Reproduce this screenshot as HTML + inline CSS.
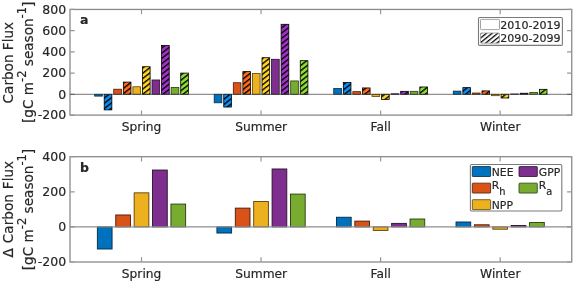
<!DOCTYPE html>
<html lang="en"><head><meta charset="utf-8"><title>Seasonal carbon flux</title>
<style>html,body{margin:0;padding:0;background:#fff}svg{display:block;will-change:transform}text{font-family:"DejaVu Sans", "Liberation Sans", sans-serif;fill:#262626;stroke:#262626;stroke-width:0.18px}</style></head><body>
<svg width="575" height="283" viewBox="0 0 575 283">
<defs>
<pattern id="h0" width="4.14" height="4.14" patternUnits="userSpaceOnUse" patternTransform="rotate(-38.0) translate(0 0.00)"><rect width="4.14" height="4.14" fill="#0a8cf0"/><rect width="4.14" height="1.35" fill="#000"/></pattern>
<pattern id="h1" width="4.14" height="4.14" patternUnits="userSpaceOnUse" patternTransform="rotate(-38.0) translate(0 0.00)"><rect width="4.14" height="4.14" fill="#ff6a14"/><rect width="4.14" height="1.35" fill="#000"/></pattern>
<pattern id="h2" width="4.14" height="4.14" patternUnits="userSpaceOnUse" patternTransform="rotate(-38.0) translate(0 0.00)"><rect width="4.14" height="4.14" fill="#ffd420"/><rect width="4.14" height="1.35" fill="#000"/></pattern>
<pattern id="h3" width="4.14" height="4.14" patternUnits="userSpaceOnUse" patternTransform="rotate(-38.0) translate(0 0.00)"><rect width="4.14" height="4.14" fill="#a030c8"/><rect width="4.14" height="1.35" fill="#000"/></pattern>
<pattern id="h4" width="4.14" height="4.14" patternUnits="userSpaceOnUse" patternTransform="rotate(-38.0) translate(0 0.00)"><rect width="4.14" height="4.14" fill="#8edc30"/><rect width="4.14" height="1.35" fill="#000"/></pattern>
<pattern id="hw" width="3.55" height="3.55" patternUnits="userSpaceOnUse" patternTransform="rotate(-39) translate(0 1.2)"><rect width="3.55" height="3.55" fill="#fff"/><rect width="3.55" height="1.25" fill="#000"/></pattern>
</defs>
<rect width="575" height="283" fill="#fff"/>
<rect x="70.00" y="9.45" width="501.75" height="105.65" fill="#fff" stroke="#8a8a8a" stroke-width="1.3"/>
<path d="M141.50 115.10v-4.70M141.50 9.45v4.70M261.05 115.10v-4.70M261.05 9.45v4.70M380.60 115.10v-4.70M380.60 9.45v4.70M500.15 115.10v-4.70M500.15 9.45v4.70M70.00 9.45h4.70M571.75 9.45h-4.70M70.00 30.66h4.70M571.75 30.66h-4.70M70.00 51.87h4.70M571.75 51.87h-4.70M70.00 73.08h4.70M571.75 73.08h-4.70M70.00 94.29h4.70M571.75 94.29h-4.70M70.00 115.10h4.70M571.75 115.10h-4.70" stroke="#979797" stroke-width="1.2" fill="none"/>
<text x="66.10" y="13.70" font-size="12.5" text-anchor="end">800</text>
<text x="66.10" y="34.91" font-size="12.5" text-anchor="end">600</text>
<text x="66.10" y="56.12" font-size="12.5" text-anchor="end">400</text>
<text x="66.10" y="77.33" font-size="12.5" text-anchor="end">200</text>
<text x="66.10" y="98.54" font-size="12.5" text-anchor="end">0</text>
<text x="66.10" y="119.35" font-size="12.5" text-anchor="end">-200</text>
<text x="141.60" y="130.80" font-size="12.25" text-anchor="middle">Spring</text>
<text x="261.15" y="130.80" font-size="12.25" text-anchor="middle">Summer</text>
<text x="380.70" y="130.80" font-size="12.25" text-anchor="middle">Fall</text>
<text x="500.25" y="130.80" font-size="12.25" text-anchor="middle">Winter</text>
<text x="80.00" y="24.45" font-size="12.5" font-weight="bold">a</text>
<text transform="translate(13.0 62.65) rotate(-90)" font-size="13.6" text-anchor="middle" word-spacing="0.00">Carbon Flux</text>
<text transform="translate(33.0 62.30) rotate(-90)" font-size="13.6" text-anchor="middle">[gC m<tspan dy="-6.7" font-size="11.5">-2</tspan><tspan dy="6.7"> season</tspan><tspan dy="-6.7" font-size="11.5">-1</tspan><tspan dy="6.7">]</tspan></text>
<rect x="94.64" y="94.30" width="7.65" height="1.80" fill="#0072BD" stroke="#002a48" stroke-width="0.8"/>
<rect x="104.20" y="94.30" width="7.65" height="15.59" fill="url(#h0)" stroke="#000" stroke-width="0.8"/>
<rect x="113.76" y="89.21" width="7.65" height="5.09" fill="#D95319" stroke="#4a1a06" stroke-width="0.8"/>
<rect x="123.33" y="82.10" width="7.65" height="12.20" fill="url(#h1)" stroke="#000" stroke-width="0.8"/>
<rect x="132.89" y="86.77" width="7.65" height="7.53" fill="#EDB120" stroke="#5a4208" stroke-width="0.8"/>
<rect x="142.46" y="66.72" width="7.65" height="27.58" fill="url(#h2)" stroke="#000" stroke-width="0.8"/>
<rect x="152.02" y="79.98" width="7.65" height="14.32" fill="#7E2F8E" stroke="#2a0e30" stroke-width="0.8"/>
<rect x="161.58" y="45.51" width="7.65" height="48.79" fill="url(#h3)" stroke="#000" stroke-width="0.8"/>
<rect x="171.15" y="87.41" width="7.65" height="6.89" fill="#77AC30" stroke="#283c10" stroke-width="0.8"/>
<rect x="180.71" y="73.09" width="7.65" height="21.21" fill="url(#h4)" stroke="#000" stroke-width="0.8"/>
<rect x="214.19" y="94.30" width="7.65" height="8.48" fill="#0072BD" stroke="#002a48" stroke-width="0.8"/>
<rect x="223.75" y="94.30" width="7.65" height="12.73" fill="url(#h0)" stroke="#000" stroke-width="0.8"/>
<rect x="233.31" y="82.74" width="7.65" height="11.56" fill="#D95319" stroke="#4a1a06" stroke-width="0.8"/>
<rect x="242.88" y="71.60" width="7.65" height="22.70" fill="url(#h1)" stroke="#000" stroke-width="0.8"/>
<rect x="252.44" y="73.41" width="7.65" height="20.89" fill="#EDB120" stroke="#5a4208" stroke-width="0.8"/>
<rect x="262.01" y="57.71" width="7.65" height="36.59" fill="url(#h2)" stroke="#000" stroke-width="0.8"/>
<rect x="271.57" y="59.30" width="7.65" height="35.00" fill="#7E2F8E" stroke="#2a0e30" stroke-width="0.8"/>
<rect x="281.13" y="24.30" width="7.65" height="70.00" fill="url(#h3)" stroke="#000" stroke-width="0.8"/>
<rect x="290.70" y="80.94" width="7.65" height="13.36" fill="#77AC30" stroke="#283c10" stroke-width="0.8"/>
<rect x="300.26" y="60.68" width="7.65" height="33.62" fill="url(#h4)" stroke="#000" stroke-width="0.8"/>
<rect x="333.74" y="88.57" width="7.65" height="5.73" fill="#0072BD" stroke="#002a48" stroke-width="0.8"/>
<rect x="343.30" y="82.53" width="7.65" height="11.77" fill="url(#h0)" stroke="#000" stroke-width="0.8"/>
<rect x="352.86" y="91.65" width="7.65" height="2.65" fill="#D95319" stroke="#4a1a06" stroke-width="0.8"/>
<rect x="362.43" y="87.94" width="7.65" height="6.36" fill="url(#h1)" stroke="#000" stroke-width="0.8"/>
<rect x="371.99" y="94.30" width="7.65" height="2.23" fill="#EDB120" stroke="#5a4208" stroke-width="0.8"/>
<rect x="381.56" y="94.30" width="7.65" height="5.09" fill="url(#h2)" stroke="#000" stroke-width="0.8"/>
<rect x="391.12" y="93.77" width="7.65" height="0.53" fill="#7E2F8E" stroke="#2a0e30" stroke-width="0.8"/>
<rect x="400.68" y="91.33" width="7.65" height="2.97" fill="url(#h3)" stroke="#000" stroke-width="0.8"/>
<rect x="410.25" y="91.33" width="7.65" height="2.97" fill="#77AC30" stroke="#283c10" stroke-width="0.8"/>
<rect x="419.81" y="86.98" width="7.65" height="7.32" fill="url(#h4)" stroke="#000" stroke-width="0.8"/>
<rect x="453.29" y="91.12" width="7.65" height="3.18" fill="#0072BD" stroke="#002a48" stroke-width="0.8"/>
<rect x="462.85" y="87.62" width="7.65" height="6.68" fill="url(#h0)" stroke="#000" stroke-width="0.8"/>
<rect x="472.41" y="93.03" width="7.65" height="1.27" fill="#D95319" stroke="#4a1a06" stroke-width="0.8"/>
<rect x="481.98" y="90.91" width="7.65" height="3.39" fill="url(#h1)" stroke="#000" stroke-width="0.8"/>
<rect x="491.54" y="94.30" width="7.65" height="1.38" fill="#EDB120" stroke="#5a4208" stroke-width="0.8"/>
<rect x="501.11" y="94.30" width="7.65" height="3.71" fill="url(#h2)" stroke="#000" stroke-width="0.8"/>
<rect x="510.67" y="93.98" width="7.65" height="0.32" fill="#7E2F8E" stroke="#2a0e30" stroke-width="0.8"/>
<rect x="520.23" y="93.24" width="7.65" height="1.06" fill="url(#h3)" stroke="#000" stroke-width="0.8"/>
<rect x="529.80" y="92.50" width="7.65" height="1.80" fill="#77AC30" stroke="#283c10" stroke-width="0.8"/>
<rect x="539.36" y="89.32" width="7.65" height="4.98" fill="url(#h4)" stroke="#000" stroke-width="0.8"/>
<path d="M70.00 94.30H571.75" stroke="#3a3a3a" stroke-width="0.7"/>
<rect x="478.5" y="17.5" width="83.9" height="27.9" rx="1.2" fill="#fff" stroke="#7a7a7a" stroke-width="1.1"/>
<rect x="480.5" y="19.4" width="19" height="10.2" rx="0.8" fill="#fff" stroke="#8c8c8c" stroke-width="0.8"/>
<rect x="480.5" y="33.0" width="19" height="10.2" rx="0.8" fill="url(#hw)" stroke="#9a9a9a" stroke-width="0.8"/>
<text x="500.3" y="28.6" font-size="11.05">2010-2019</text>
<text x="500.3" y="42.3" font-size="11.05">2090-2099</text>
<rect x="70.00" y="156.70" width="501.75" height="105.30" fill="#fff" stroke="#8a8a8a" stroke-width="1.3"/>
<path d="M141.50 262.00v-4.70M141.50 156.70v4.70M261.05 262.00v-4.70M261.05 156.70v4.70M380.60 262.00v-4.70M380.60 156.70v4.70M500.15 262.00v-4.70M500.15 156.70v4.70M70.00 156.70h4.70M571.75 156.70h-4.70M70.00 191.80h4.70M571.75 191.80h-4.70M70.00 226.90h4.70M571.75 226.90h-4.70M70.00 262.00h4.70M571.75 262.00h-4.70" stroke="#979797" stroke-width="1.2" fill="none"/>
<text x="66.10" y="160.95" font-size="12.5" text-anchor="end">400</text>
<text x="66.10" y="196.05" font-size="12.5" text-anchor="end">200</text>
<text x="66.10" y="231.15" font-size="12.5" text-anchor="end">0</text>
<text x="66.10" y="266.25" font-size="12.5" text-anchor="end">-200</text>
<text x="141.60" y="277.70" font-size="12.25" text-anchor="middle">Spring</text>
<text x="261.15" y="277.70" font-size="12.25" text-anchor="middle">Summer</text>
<text x="380.70" y="277.70" font-size="12.25" text-anchor="middle">Fall</text>
<text x="500.25" y="277.70" font-size="12.25" text-anchor="middle">Winter</text>
<text x="80.00" y="171.70" font-size="12.5" font-weight="bold">b</text>
<text transform="translate(13.0 209.20) rotate(-90)" font-size="13.6" text-anchor="middle" word-spacing="0.70">Δ Carbon Flux</text>
<text transform="translate(33.0 209.50) rotate(-90)" font-size="13.6" text-anchor="middle">[gC m<tspan dy="-6.7" font-size="11.5">-2</tspan><tspan dy="6.7"> season</tspan><tspan dy="-6.7" font-size="11.5">-1</tspan><tspan dy="6.7">]</tspan></text>
<rect x="97.36" y="226.90" width="14.71" height="22.11" fill="#0072BD" stroke="#002a48" stroke-width="0.9"/>
<rect x="115.75" y="214.97" width="14.71" height="11.93" fill="#D95319" stroke="#4a1a06" stroke-width="0.9"/>
<rect x="134.14" y="192.85" width="14.71" height="34.05" fill="#EDB120" stroke="#5a4208" stroke-width="0.9"/>
<rect x="152.54" y="170.04" width="14.71" height="56.86" fill="#7E2F8E" stroke="#2a0e30" stroke-width="0.9"/>
<rect x="170.93" y="204.08" width="14.71" height="22.82" fill="#77AC30" stroke="#283c10" stroke-width="0.9"/>
<rect x="216.91" y="226.90" width="14.71" height="6.14" fill="#0072BD" stroke="#002a48" stroke-width="0.9"/>
<rect x="235.30" y="208.12" width="14.71" height="18.78" fill="#D95319" stroke="#4a1a06" stroke-width="0.9"/>
<rect x="253.69" y="201.45" width="14.71" height="25.45" fill="#EDB120" stroke="#5a4208" stroke-width="0.9"/>
<rect x="272.09" y="168.98" width="14.71" height="57.92" fill="#7E2F8E" stroke="#2a0e30" stroke-width="0.9"/>
<rect x="290.48" y="194.08" width="14.71" height="32.82" fill="#77AC30" stroke="#283c10" stroke-width="0.9"/>
<rect x="336.46" y="217.25" width="14.71" height="9.65" fill="#0072BD" stroke="#002a48" stroke-width="0.9"/>
<rect x="354.85" y="221.11" width="14.71" height="5.79" fill="#D95319" stroke="#4a1a06" stroke-width="0.9"/>
<rect x="373.24" y="226.90" width="14.71" height="3.51" fill="#EDB120" stroke="#5a4208" stroke-width="0.9"/>
<rect x="391.64" y="223.39" width="14.71" height="3.51" fill="#7E2F8E" stroke="#2a0e30" stroke-width="0.9"/>
<rect x="410.03" y="219.00" width="14.71" height="7.90" fill="#77AC30" stroke="#283c10" stroke-width="0.9"/>
<rect x="456.01" y="221.99" width="14.71" height="4.91" fill="#0072BD" stroke="#002a48" stroke-width="0.9"/>
<rect x="474.40" y="224.79" width="14.71" height="2.11" fill="#D95319" stroke="#4a1a06" stroke-width="0.9"/>
<rect x="492.79" y="226.90" width="14.71" height="2.28" fill="#EDB120" stroke="#5a4208" stroke-width="0.9"/>
<rect x="511.19" y="225.50" width="14.71" height="1.40" fill="#7E2F8E" stroke="#2a0e30" stroke-width="0.9"/>
<rect x="529.58" y="222.51" width="14.71" height="4.39" fill="#77AC30" stroke="#283c10" stroke-width="0.9"/>
<path d="M70.00 226.90H571.75" stroke="#8f8f8f" stroke-width="1.3"/>
<rect x="470.4" y="164.5" width="91.4" height="46.5" rx="1.2" fill="#fff" stroke="#7a7a7a" stroke-width="1.1"/>
<rect x="472.30" y="166.60" width="18.3" height="9.9" rx="0.6" fill="#0072BD" stroke="#002a48" stroke-width="0.8"/>
<rect x="472.30" y="183.15" width="18.3" height="9.9" rx="0.6" fill="#D95319" stroke="#4a1a06" stroke-width="0.8"/>
<rect x="472.30" y="199.70" width="18.3" height="9.9" rx="0.6" fill="#EDB120" stroke="#5a4208" stroke-width="0.8"/>
<rect x="519.00" y="166.60" width="18.3" height="9.9" rx="0.6" fill="#7E2F8E" stroke="#2a0e30" stroke-width="0.8"/>
<rect x="519.00" y="183.15" width="18.3" height="9.9" rx="0.6" fill="#77AC30" stroke="#283c10" stroke-width="0.8"/>
<text x="491.8" y="175.6" font-size="10.8">NEE</text>
<text x="491.8" y="188.9" font-size="10.8">R<tspan dy="5.7" font-size="9.8">h</tspan></text>
<text x="491.8" y="208.5" font-size="10.8">NPP</text>
<text x="538.8" y="175.6" font-size="10.8">GPP</text>
<text x="538.8" y="188.9" font-size="10.8">R<tspan dy="5.7" font-size="9.8">a</tspan></text>
</svg></body></html>
